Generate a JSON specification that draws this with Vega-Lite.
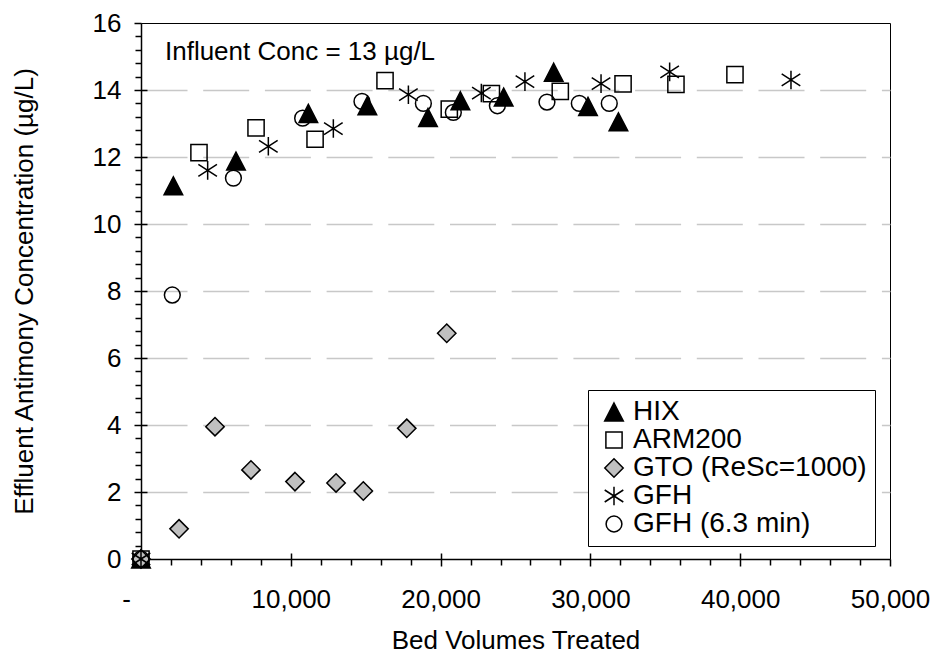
{
  "$schema": "https://vega.github.io/schema/vega-lite/v6.json",
  "width": 749,
  "height": 536,
  "autosize": {"type": "none"},
  "padding": {"left": 141, "top": 23, "right": 44, "bottom": 97},
  "background": "white",
  "config": {
    "font": "Liberation Sans",
    "view": {"stroke": "black", "strokeWidth": 1},
    "axis": {
      "labelFont": "Liberation Sans",
      "titleFont": "Liberation Sans",
      "labelColor": "black",
      "titleColor": "black",
      "titleFontWeight": "normal",
      "labelFontSize": 26,
      "titleFontSize": 26,
      "domainColor": "black",
      "tickColor": "black",
      "labelFlush": false,
      "labelOverlap": false
    }
  },
  "datasets": {
    "pts": [
      {"series": "HIX", "bv": 0, "conc": 0},
      {"series": "HIX", "bv": 2160, "conc": 11.14},
      {"series": "HIX", "bv": 6340, "conc": 11.88},
      {"series": "HIX", "bv": 11170, "conc": 13.3},
      {"series": "HIX", "bv": 15110, "conc": 13.53},
      {"series": "HIX", "bv": 19160, "conc": 13.18},
      {"series": "HIX", "bv": 21320, "conc": 13.68},
      {"series": "HIX", "bv": 24210, "conc": 13.79},
      {"series": "HIX", "bv": 27550, "conc": 14.53},
      {"series": "HIX", "bv": 29840, "conc": 13.51},
      {"series": "HIX", "bv": 31870, "conc": 13.05},
      {"series": "ARM200", "bv": 0, "conc": 0},
      {"series": "ARM200", "bv": 3870, "conc": 12.13},
      {"series": "ARM200", "bv": 7680, "conc": 12.87},
      {"series": "ARM200", "bv": 11620, "conc": 12.53},
      {"series": "ARM200", "bv": 16290, "conc": 14.28},
      {"series": "ARM200", "bv": 20580, "conc": 13.43},
      {"series": "ARM200", "bv": 23390, "conc": 13.89},
      {"series": "ARM200", "bv": 27990, "conc": 13.96},
      {"series": "ARM200", "bv": 32180, "conc": 14.18},
      {"series": "ARM200", "bv": 35710, "conc": 14.17},
      {"series": "ARM200", "bv": 39650, "conc": 14.46},
      {"series": "GTO (ReSc=1000)", "bv": 0, "conc": 0},
      {"series": "GTO (ReSc=1000)", "bv": 2540, "conc": 0.9},
      {"series": "GTO (ReSc=1000)", "bv": 4940, "conc": 3.95},
      {"series": "GTO (ReSc=1000)", "bv": 7340, "conc": 2.66},
      {"series": "GTO (ReSc=1000)", "bv": 10280, "conc": 2.31},
      {"series": "GTO (ReSc=1000)", "bv": 13020, "conc": 2.27},
      {"series": "GTO (ReSc=1000)", "bv": 14840, "conc": 2.03},
      {"series": "GTO (ReSc=1000)", "bv": 17740, "conc": 3.9},
      {"series": "GTO (ReSc=1000)", "bv": 20410, "conc": 6.74},
      {"series": "GFH", "bv": 0, "conc": 0},
      {"series": "GFH", "bv": 4450, "conc": 11.6},
      {"series": "GFH", "bv": 8500, "conc": 12.32},
      {"series": "GFH", "bv": 12840, "conc": 12.85},
      {"series": "GFH", "bv": 17850, "conc": 13.86},
      {"series": "GFH", "bv": 22720, "conc": 13.91},
      {"series": "GFH", "bv": 25630, "conc": 14.25},
      {"series": "GFH", "bv": 30710, "conc": 14.19},
      {"series": "GFH", "bv": 35290, "conc": 14.54},
      {"series": "GFH", "bv": 43390, "conc": 14.3},
      {"series": "GFH (6.3 min)", "bv": 0, "conc": 0},
      {"series": "GFH (6.3 min)", "bv": 2090, "conc": 7.88},
      {"series": "GFH (6.3 min)", "bv": 6170, "conc": 11.37},
      {"series": "GFH (6.3 min)", "bv": 10790, "conc": 13.16},
      {"series": "GFH (6.3 min)", "bv": 14750, "conc": 13.66},
      {"series": "GFH (6.3 min)", "bv": 18850, "conc": 13.6},
      {"series": "GFH (6.3 min)", "bv": 20850, "conc": 13.33},
      {"series": "GFH (6.3 min)", "bv": 23790, "conc": 13.53},
      {"series": "GFH (6.3 min)", "bv": 27100, "conc": 13.64},
      {"series": "GFH (6.3 min)", "bv": 29260, "conc": 13.6},
      {"series": "GFH (6.3 min)", "bv": 31260, "conc": 13.6}
    ],
    "note": [
      {"bv": 1600, "conc": 14.89, "label": "Influent Conc = 13 µg/L"}
    ]
  },
  "layer": [
    {
      "data": {"name": "note"},
      "mark": {"type": "point", "opacity": 0},
      "encoding": {
        "x": {
          "field": "bv", "type": "quantitative",
          "scale": {"domain": [0, 50000], "nice": false, "zero": false},
          "axis": {"orient": "bottom", "values": [10000, 20000, 30000, 40000], "labels": false, "domain": false, "grid": false, "tickSize": -6, "tickWidth": 1.5, "title": null}
        },
        "y": {
          "field": "conc", "type": "quantitative",
          "scale": {"domain": [0, 16], "nice": false, "zero": false},
          "axis": {"orient": "left", "values": [2, 4, 6, 8, 10, 12, 14], "labels": false, "domain": false, "grid": true, "gridDash": [46, 15.7], "gridColor": "#c8c8c8", "gridWidth": 1.5, "tickSize": -6, "tickWidth": 1.5, "title": null}
        }
      }
    },
    {
      "data": {"name": "note"},
      "mark": {"type": "point", "opacity": 0},
      "encoding": {
        "x": {
          "field": "bv", "type": "quantitative",
          "scale": {"domain": [0, 50000], "nice": false, "zero": false},
          "axis": {"orient": "bottom", "values": [0], "labelExpr": "'-'", "labelOffset": -15, "ticks": false, "domain": false, "grid": false, "labelPadding": 48, "labelBaseline": "alphabetic", "title": null}
        },
        "y": {
          "field": "conc", "type": "quantitative",
          "scale": {"domain": [0, 16], "nice": false, "zero": false},
          "axis": null
        }
      }
    },
    {
      "data": {"name": "note"},
      "mark": {"type": "text", "align": "left", "baseline": "alphabetic", "fontSize": 26, "font": "Liberation Sans", "color": "black"},
      "encoding": {
        "x": {
          "field": "bv", "type": "quantitative",
          "scale": {"domain": [0, 50000], "nice": false, "zero": false},
          "axis": {"orient": "bottom", "values": [2000, 4000, 6000, 8000, 12000, 14000, 16000, 18000, 22000, 24000, 26000, 28000, 32000, 34000, 36000, 38000, 42000, 44000, 46000, 48000], "labels": false, "domain": false, "grid": false, "tickSize": 6, "tickWidth": 1.5, "title": null}
        },
        "y": {
          "field": "conc", "type": "quantitative",
          "scale": {"domain": [0, 16], "nice": false, "zero": false},
          "axis": {"orient": "left", "values": [0.4, 0.8, 1.2, 1.6, 2.4, 2.8, 3.2, 3.6, 4.4, 4.8, 5.2, 5.6, 6.4, 6.8, 7.2, 7.6, 8.4, 8.8, 9.2, 9.6, 10.4, 10.8, 11.2, 11.6, 12.4, 12.8, 13.2, 13.6, 14.4, 14.8, 15.2, 15.6], "labels": false, "domain": false, "grid": false, "tickSize": 6, "tickWidth": 1.5, "title": null}
        },
        "text": {"field": "label"}
      }
    },
    {
      "data": {"name": "pts"},
      "mark": {"type": "point", "size": 400, "stroke": "black", "strokeWidth": 1.5, "opacity": 1},
      "encoding": {
        "x": {
          "field": "bv", "type": "quantitative",
          "scale": {"domain": [0, 50000], "nice": false, "zero": false},
          "axis": {
            "orient": "bottom",
            "values": [0, 10000, 20000, 30000, 40000, 50000],
            "labelExpr": "datum.value === 0 ? '' : format(datum.value, ',')",
            "tickSize": 7, "tickWidth": 1.5, "domainWidth": 1.5,
            "labelPadding": 41, "labelBaseline": "alphabetic",
            "grid": false,
            "title": "Bed Volumes Treated", "titleY": 89, "titleBaseline": "alphabetic"
          }
        },
        "y": {
          "field": "conc", "type": "quantitative",
          "scale": {"domain": [0, 16], "nice": false, "zero": false},
          "axis": {
            "orient": "left",
            "values": [0, 2, 4, 6, 8, 10, 12, 14, 16],
            "tickSize": 7, "tickWidth": 1.5, "domainWidth": 1.5,
            "labelPadding": 13,
            "grid": false,
            "title": "Effluent Antimony Concentration (µg/L)", "titleX": -109, "titleBaseline": "alphabetic", "titleAngle": 270
          }
        },
        "shape": {
          "field": "series", "type": "nominal",
          "scale": {
            "domain": ["HIX", "ARM200", "GTO (ReSc=1000)", "GFH", "GFH (6.3 min)"],
            "range": [
              "M0,-0.9L0.93,0.9L-0.93,0.9Z",
              "M-0.81,-0.81H0.81V0.81H-0.81Z",
              "M0,-0.92L0.92,0L0,0.92L-0.92,0Z",
              "M0,-0.93L0,0.93M-0.93,-0.6L0.93,0.6M-0.93,0.6L0.93,-0.6",
              "M-0.79,0A0.79,0.79 0 1,0 0.79,0A0.79,0.79 0 1,0 -0.79,0Z"
            ]
          },
          "legend": {"orient": "none", "legendX": 447, "legendY": 367, "title": null, "padding": 8, "strokeColor": "black", "fillColor": "white", "symbolOffset": 4, "labelOffset": 5, "labelFontSize": 28, "labelFont": "Liberation Sans", "labelColor": "black", "labelLimit": 400, "symbolSize": 400, "rowPadding": 0, "encode": {"symbols": {"update": {"stroke": {"value": "black"}, "strokeWidth": {"value": 1.5}, "opacity": {"value": 1}}}}}
        },
        "fill": {
          "field": "series", "type": "nominal",
          "scale": {
            "domain": ["HIX", "ARM200", "GTO (ReSc=1000)", "GFH", "GFH (6.3 min)"],
            "range": ["#000000", "transparent", "#c0c0c0", "transparent", "transparent"]
          },
          "legend": {"orient": "none", "legendX": 447, "legendY": 367, "title": null, "padding": 8, "strokeColor": "black", "fillColor": "white", "symbolOffset": 4, "labelOffset": 5, "labelFontSize": 28, "labelFont": "Liberation Sans", "labelColor": "black", "labelLimit": 400, "symbolSize": 400, "rowPadding": 0, "encode": {"symbols": {"update": {"stroke": {"value": "black"}, "strokeWidth": {"value": 1.5}, "opacity": {"value": 1}}}}}
        }
      }
    }
  ],
  "resolve": {"axis": {"x": "independent", "y": "independent"}}
}
